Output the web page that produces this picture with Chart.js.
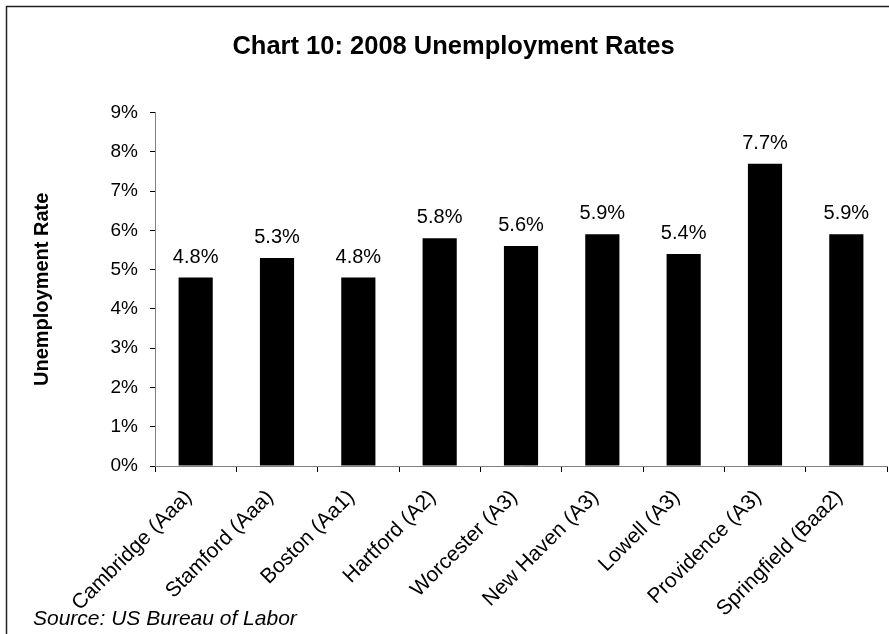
<!DOCTYPE html>
<html lang="en">
<head>
    <meta charset="UTF-8">
    <title>Chart 10: 2008 Unemployment Rates</title>
    <script src="https://cdn.jsdelivr.net/npm/chart.js"></script>
    <style>
        body {
            margin: 0;
            padding: 0;
            background-color: #ffffff;
        }

        #rateChart {
            display: block;
        }
    </style>
</head>
<body>
<canvas id="rateChart" width="889" height="634"></canvas>

<script>
    const cities = ['Cambridge (Aaa)', 'Stamford (Aaa)', 'Boston (Aa1)', 'Hartford (A2)', 'Worcester (A3)',
        'New Haven (A3)', 'Lowell (A3)', 'Providence (A3)', 'Springfield (Baa2)'];
    const rates = [4.8, 5.3, 4.8, 5.8, 5.6, 5.9, 5.4, 7.7, 5.9];
    const yTicks = [0, 1, 2, 3, 4, 5, 6, 7, 8, 9];

    const font = "'Liberation Sans', Arial, sans-serif";

    // frame, value labels and source note
    const decorations = {
        id: 'decorations',
        beforeDraw(chart) {
            const ctx = chart.ctx;
            ctx.save();
            ctx.fillStyle = '#ffffff';
            ctx.fillRect(0, 0, chart.width, chart.height);
            ctx.strokeStyle = '#222222';
            ctx.lineWidth = 1.5;
            ctx.beginPath();
            ctx.moveTo(6.5, chart.height);
            ctx.lineTo(6.5, 6.5);
            ctx.lineTo(chart.width, 6.5);
            ctx.stroke();
            ctx.restore();
        },
        afterDatasetsDraw(chart) {
            const ctx = chart.ctx;
            const meta = chart.getDatasetMeta(0);
            ctx.save();
            ctx.fillStyle = '#000000';
            ctx.font = '20px ' + font;
            ctx.textAlign = 'center';
            ctx.textBaseline = 'alphabetic';
            meta.data.forEach((bar, i) => {
                ctx.fillText(rates[i].toFixed(1) + '%', bar.x, bar.y - 15);
            });
            ctx.font = 'italic 21px ' + font;
            ctx.textAlign = 'left';
            ctx.fillText('Source: US Bureau of Labor', 33, chart.height - 9);
            ctx.restore();
        }
    };

    const ctx = document.getElementById('rateChart').getContext('2d');
    const chart = new Chart(ctx, {
        type: 'bar',
        data: {
            labels: cities,
            datasets: [{
                label: 'Unemployment Rate',
                data: rates,
                backgroundColor: '#000000',
                borderWidth: 0,
                barPercentage: 0.42,
                categoryPercentage: 1.0
            }]
        },
        options: {
            responsive: false,
            animation: false,
            layout: {
                padding: {left: 20, right: 2, top: 0, bottom: 0}
            },
            plugins: {
                legend: {display: false},
                tooltip: {enabled: false},
                title: {
                    display: true,
                    text: 'Chart 10: 2008 Unemployment Rates',
                    color: '#000000',
                    font: {family: font, size: 25.5, weight: 'bold'},
                    padding: {top: 32, bottom: 50}
                }
            },
            scales: {
                x: {
                    afterFit(scale) {
                        scale.height = 168;
                    },
                    grid: {
                        display: true,
                        drawOnChartArea: false,
                        drawTicks: true,
                        tickLength: 6,
                        color: '#000000'
                    },
                    border: {color: '#808080', width: 1},
                    ticks: {
                        color: '#000000',
                        font: {family: font, size: 21},
                        minRotation: 45,
                        maxRotation: 45,
                        autoSkip: false,
                        padding: 13,
                        labelOffset: -7
                    }
                },
                y: {
                    min: 0,
                    max: 9,
                    afterFit(scale) {
                        scale.width = 135;
                    },
                    afterBuildTicks(scale) {
                        scale.ticks = yTicks.map(v => ({value: v}));
                    },
                    grid: {
                        display: true,
                        drawOnChartArea: false,
                        drawTicks: true,
                        tickLength: 5,
                        color: '#000000'
                    },
                    border: {color: '#808080', width: 1},
                    ticks: {
                        color: '#000000',
                        font: {family: font, size: 19},
                        padding: 12,
                        callback: v => v + '%'
                    },
                    title: {
                        display: true,
                        text: 'Unemployment Rate',
                        color: '#000000',
                        font: {family: font, size: 20, weight: 'bold'},
                        padding: 10
                    }
                }
            }
        },
        plugins: [decorations]
    });
</script>
</body>
</html>
